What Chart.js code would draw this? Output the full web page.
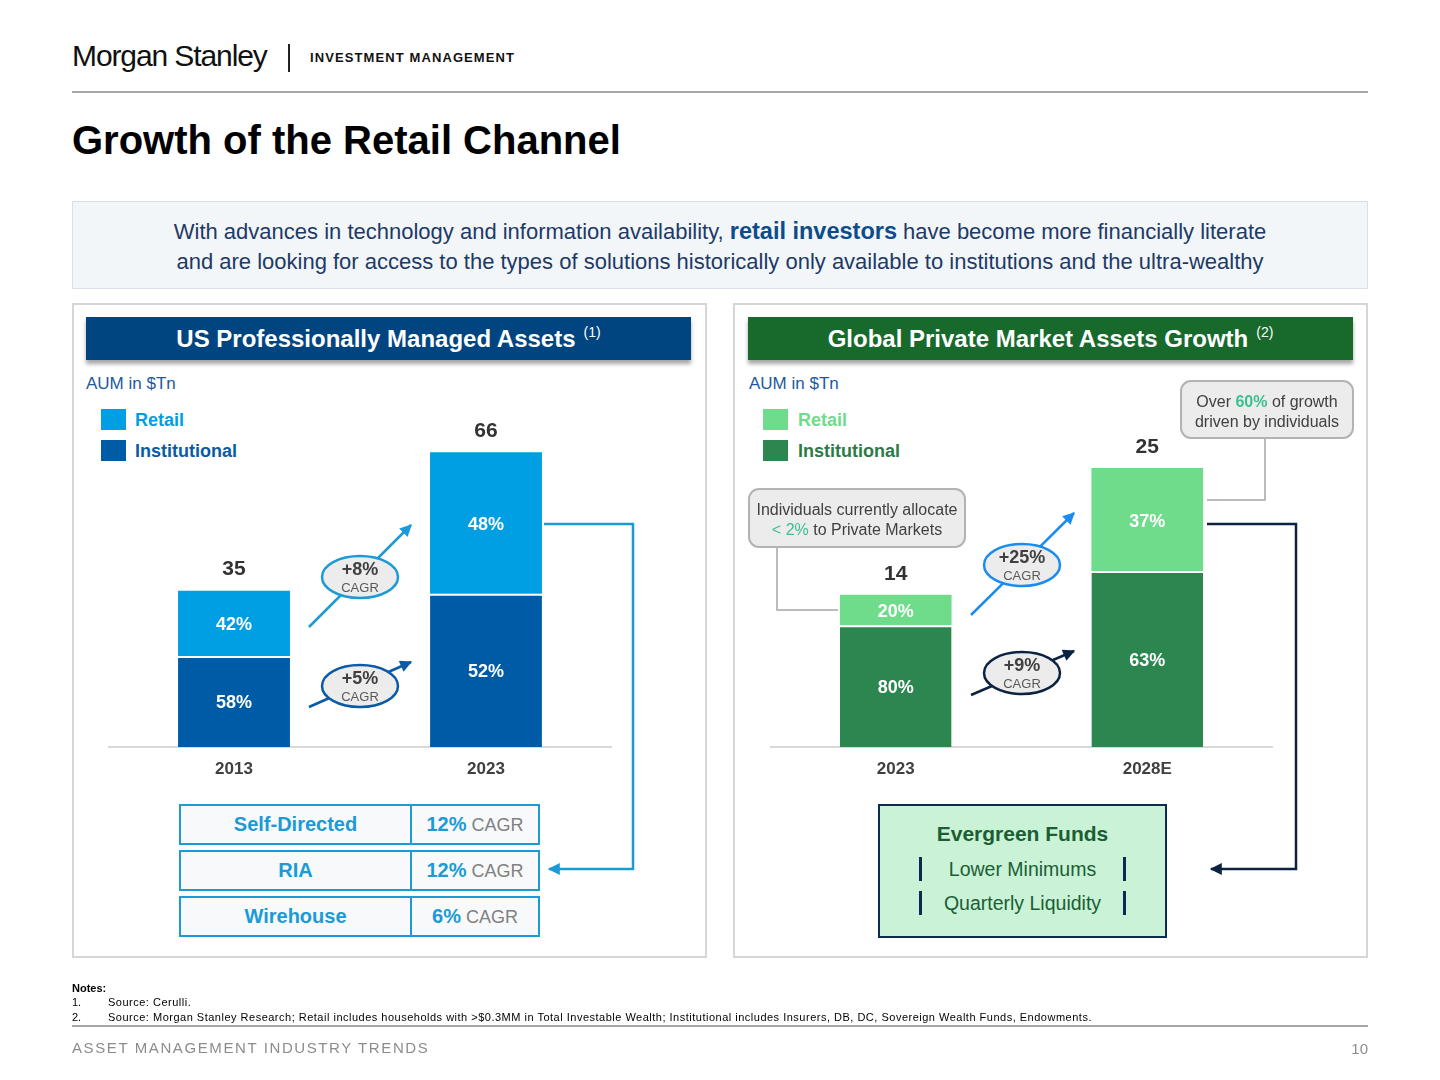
<!DOCTYPE html>
<html>
<head>
<meta charset="utf-8">
<script src="https://cdn.jsdelivr.net/npm/chart.js@4.4.1/dist/chart.umd.min.js"></script>
<style>
body{margin:0;background:#fff;font-family:"Liberation Sans",Arial,sans-serif;}
#page{position:relative;width:1440px;height:1080px;overflow:hidden;background:#fff;}
.a{position:absolute;}
.panel{border:2px solid #d6d6d6;box-sizing:border-box;}
.hdr{color:#fff;font-weight:bold;font-size:24px;text-align:center;line-height:43px;box-shadow:0 4px 4px rgba(0,0,0,0.35);}
.hdr sup{font-size:14px;font-weight:normal;vertical-align:baseline;position:relative;top:-10px;margin-left:8px;line-height:0;}
.aum{font-size:17px;color:#1c5a9c;line-height:20px;}
.sq{width:25px;height:21px;}
.lg{font-size:18px;font-weight:bold;line-height:21px;}
.row{border:2px solid #1a9bd7;box-sizing:border-box;height:41px;width:361px;background:#f8f9fb;}
.row .c1{position:absolute;left:0;width:229px;top:0;height:37px;line-height:37px;text-align:center;font-weight:bold;font-size:20px;color:#1a9bd7;border-right:2px solid #1a9bd7;}
.row .c2{position:absolute;left:231px;width:126px;top:0;height:37px;line-height:37px;text-align:center;font-size:18px;color:#808080;}
.row .c2 b{font-size:20px;color:#1a9bd7;}
.notes{font-size:11px;color:#000;line-height:15px;}
</style>
</head>
<body>
<div id="page">
  <!-- header -->
  <div class="a" style="left:72px;top:38px;font-size:30px;letter-spacing:-1.1px;color:#111;line-height:36px;">Morgan Stanley</div>
  <div class="a" style="left:288px;top:44px;width:2px;height:28px;background:#222;"></div>
  <div class="a" style="left:310px;top:50px;font-size:13px;font-weight:bold;letter-spacing:1.1px;color:#111;line-height:16px;">INVESTMENT MANAGEMENT</div>
  <div class="a" style="left:72px;top:91px;width:1296px;height:2px;background:#a6a6a6;"></div>
  <div class="a" style="left:72px;top:116px;font-size:40px;font-weight:bold;color:#000;line-height:48px;">Growth of the Retail Channel</div>

  <!-- intro box -->
  <div class="a" style="left:72px;top:201px;width:1296px;height:88px;box-sizing:border-box;border:1.5px solid #d9e0e8;background:#f3f6f9;text-align:center;color:#1d3a66;font-size:22px;line-height:30px;padding-top:14px;">
    With advances in technology and information availability, <b style="color:#0d4c8a;font-size:23.5px;">retail investors</b> have become more financially literate<br>
    and are looking for access to the types of solutions historically only available to institutions and the ultra-wealthy
  </div>

  <!-- panels -->
  <div class="a panel" style="left:72px;top:303px;width:635px;height:655px;"></div>
  <div class="a panel" style="left:733px;top:303px;width:635px;height:655px;"></div>

  <div class="a hdr" style="left:86px;top:317px;width:605px;height:43px;background:#00457f;">US Professionally Managed Assets<sup>(1)</sup></div>
  <div class="a hdr" style="left:748px;top:317px;width:605px;height:43px;background:#176a2c;">Global Private Market Assets Growth<sup>(2)</sup></div>

  <div class="a aum" style="left:86px;top:374px;">AUM in $Tn</div>
  <div class="a aum" style="left:749px;top:374px;">AUM in $Tn</div>

  <!-- legends -->
  <div class="a sq" style="left:101px;top:409px;background:#009fe3;"></div>
  <div class="a lg" style="left:135px;top:410px;color:#009fe3;">Retail</div>
  <div class="a sq" style="left:101px;top:440px;background:#005ba6;"></div>
  <div class="a lg" style="left:135px;top:441px;color:#0a5aa5;">Institutional</div>

  <div class="a sq" style="left:763px;top:409px;background:#6fdc8c;"></div>
  <div class="a lg" style="left:798px;top:410px;color:#6fdc8c;">Retail</div>
  <div class="a sq" style="left:763px;top:440px;background:#2c8650;"></div>
  <div class="a lg" style="left:798px;top:441px;color:#2b7a47;">Institutional</div>

  <!-- charts -->
  <canvas id="usChart" class="a" width="504" height="420" style="left:108px;top:380px;width:504px;height:420px;"></canvas>
  <canvas id="pmChart" class="a" width="503" height="420" style="left:770px;top:380px;width:503px;height:420px;"></canvas>

  <!-- channel table -->
  <div id="chTable" class="a" style="left:179px;top:804px;"></div>

  <!-- evergreen box -->
  <div class="a" style="left:878px;top:804px;width:289px;height:134px;box-sizing:border-box;border:2px solid #0d2b4e;background:#c9f2d6;"></div>
  <div class="a" style="left:878px;top:820px;width:289px;text-align:center;font-size:21px;font-weight:bold;color:#1b5e34;line-height:28px;">Evergreen Funds</div>
  <div class="a" style="left:878px;top:856px;width:289px;text-align:center;font-size:19.5px;color:#1b5e34;line-height:26px;">Lower Minimums</div>
  <div class="a" style="left:878px;top:890px;width:289px;text-align:center;font-size:19.5px;color:#1b5e34;line-height:26px;">Quarterly Liquidity</div>
  <div class="a" style="left:919px;top:857px;width:3px;height:24px;background:#0d2b4e;"></div>
  <div class="a" style="left:1123px;top:857px;width:3px;height:24px;background:#0d2b4e;"></div>
  <div class="a" style="left:919px;top:891px;width:3px;height:24px;background:#0d2b4e;"></div>
  <div class="a" style="left:1123px;top:891px;width:3px;height:24px;background:#0d2b4e;"></div>

  <!-- annotations -->
  <svg class="a" style="left:0;top:0;" width="1440" height="1080" font-family="Liberation Sans, Arial, sans-serif">
    <defs>
      <marker id="mLight" viewBox="0 0 10 10" refX="9" refY="5" markerWidth="13" markerHeight="12" markerUnits="userSpaceOnUse" orient="auto"><path d="M0,0 L10,5 L0,10 z" fill="#1a9bd7"/></marker>
      <marker id="mDark" viewBox="0 0 10 10" refX="9" refY="5" markerWidth="13" markerHeight="12" markerUnits="userSpaceOnUse" orient="auto"><path d="M0,0 L10,5 L0,10 z" fill="#0a5aa5"/></marker>
      <marker id="mBright" viewBox="0 0 10 10" refX="9" refY="5" markerWidth="13" markerHeight="12" markerUnits="userSpaceOnUse" orient="auto"><path d="M0,0 L10,5 L0,10 z" fill="#1a8cf0"/></marker>
      <marker id="mNavy" viewBox="0 0 10 10" refX="9" refY="5" markerWidth="13" markerHeight="12" markerUnits="userSpaceOnUse" orient="auto"><path d="M0,0 L10,5 L0,10 z" fill="#0b2341"/></marker>
    </defs>
    <g id="cagrLayer"></g>

    <!-- brackets -->
    <polyline points="544,524 633,524 633,869 549,869" fill="none" stroke="#1a9bd7" stroke-width="2.5" marker-end="url(#mLight)"/>
    <polyline points="1207,524 1296,524 1296,869 1211,869" fill="none" stroke="#0b2341" stroke-width="2.5" marker-end="url(#mNavy)"/>

    <!-- callouts -->
    <polyline points="777,547 777,610 838,610" fill="none" stroke="#a6a6a6" stroke-width="1.5"/>
    <rect x="749" y="489" width="216" height="58" rx="10" fill="#ececec" stroke="#b3b3b3" stroke-width="2"/>
    <text x="857" y="515" text-anchor="middle" font-size="16" fill="#404040">Individuals currently allocate</text>
    <text x="857" y="535" text-anchor="middle" font-size="16" fill="#404040"><tspan fill="#3cbf8f">&lt; 2%</tspan> to Private Markets</text>

    <polyline points="1265,438 1265,500 1207,500" fill="none" stroke="#a6a6a6" stroke-width="1.5"/>
    <rect x="1181" y="381" width="172" height="57" rx="10" fill="#ececec" stroke="#b3b3b3" stroke-width="2"/>
    <text x="1267" y="407" text-anchor="middle" font-size="16" fill="#404040">Over <tspan fill="#3cbf8f" font-weight="bold">60%</tspan> of growth</text>
    <text x="1267" y="427" text-anchor="middle" font-size="16" fill="#404040">driven by individuals</text>
  </svg>

  <!-- footer -->
  <div class="a notes" style="left:72px;top:981px;font-weight:bold;">Notes:</div>
  <div class="a notes" style="left:72px;top:995px;">1.</div>
  <div class="a notes" style="left:108px;top:995px;letter-spacing:0.5px;">Source: Cerulli.</div>
  <div class="a notes" style="left:72px;top:1010px;">2.</div>
  <div class="a notes" style="left:108px;top:1010px;letter-spacing:0.5px;">Source: Morgan Stanley Research; Retail includes households with &gt;$0.3MM in Total Investable Wealth; Institutional includes Insurers, DB, DC, Sovereign Wealth Funds, Endowments.</div>
  <div class="a" style="left:72px;top:1025px;width:1296px;height:2px;background:#a6a6a6;"></div>
  <div class="a" style="left:72px;top:1039px;font-size:15px;color:#8c8c8c;letter-spacing:1.6px;line-height:18px;">ASSET MANAGEMENT INDUSTRY TRENDS</div>
  <div class="a" style="left:1300px;width:68px;top:1040px;font-size:15px;color:#8c8c8c;line-height:18px;text-align:right;">10</div>
</div>

<script>
// US professionally managed assets ($Tn)
const usYears = ['2013', '2023'];
const usRetail = [14.6, 31.7];
const usInstitutional = [20.4, 34.3];
const usCagr = ['+8%', '+5%']; // retail, institutional

// Global private market assets ($Tn)
const pmYears = ['2023', '2028E'];
const pmRetail = [2.75, 9.3];
const pmInstitutional = [11.0, 15.9];
const pmCagr = ['+25%', '+9%'];

// Retail channel growth
const channelNames = ['Self-Directed', 'RIA', 'Wirehouse'];
const channelCagr = [12, 12, 6];

const FONT = '"Liberation Sans", Arial, sans-serif';

// labels inside the segments and totals on top
const segLabels = {
  id: 'segLabels',
  afterDatasetsDraw(chart) {
    const ctx = chart.ctx;
    ctx.save();
    ctx.textAlign = 'center';
    ctx.textBaseline = 'middle';
    chart.data.labels.forEach((lab, i) => {
      const total = chart.data.datasets.reduce((s, d) => s + d.data[i], 0);
      let top = Infinity, x = 0;
      chart.data.datasets.forEach((d, di) => {
        const el = chart.getDatasetMeta(di).data[i];
        ctx.fillStyle = '#fff';
        ctx.font = 'bold 18px ' + FONT;
        ctx.fillText(Math.round(d.data[i] / total * 100) + '%', el.x, (el.y + el.base) / 2 + 2);
        top = Math.min(top, el.y);
        x = el.x;
      });
      ctx.fillStyle = '#333';
      ctx.font = 'bold 21px ' + FONT;
      ctx.fillText(Math.round(total), x, top - 21);
    });
    ctx.restore();
  }
};

function stackedChart(id, years, retail, inst, cRetail, cInst, yMax, padTop) {
  return new Chart(document.getElementById(id), {
    type: 'bar',
    data: {
      labels: years,
      datasets: [
        { label: 'Institutional', data: inst, backgroundColor: cInst, borderColor: '#fff',
          borderWidth: { top: 2, left: 0, right: 0, bottom: 0 }, borderSkipped: false },
        { label: 'Retail', data: retail, backgroundColor: cRetail, borderWidth: 0 }
      ]
    },
    options: {
      responsive: false,
      animation: false,
      layout: { padding: { top: padTop, left: 0, right: 0, bottom: 0 } },
      plugins: { legend: { display: false }, tooltip: { enabled: false } },
      datasets: { bar: { categoryPercentage: 1, barPercentage: 0.444 } },
      scales: {
        x: {
          stacked: true,
          grid: { display: false, drawTicks: false },
          border: { display: true, color: '#d9d9d9', width: 2 },
          ticks: { color: '#404040', padding: 12, font: { family: FONT, size: 17, weight: 'bold' } },
          afterFit: s => { s.height = 53; }
        },
        y: { stacked: true, display: false, min: 0, max: yMax }
      }
    },
    plugins: [segLabels]
  });
}

stackedChart('usChart', usYears, usRetail, usInstitutional, '#009fe3', '#005ba6', 75, 32);
stackedChart('pmChart', pmYears, pmRetail, pmInstitutional, '#6fdc8c', '#2c8650', 30, 35);

// CAGR arrows and bubbles
const NS = 'http://www.w3.org/2000/svg';
const layer = document.getElementById('cagrLayer');
function el(tag, attrs, text) {
  const e = document.createElementNS(NS, tag);
  for (const k in attrs) e.setAttribute(k, attrs[k]);
  if (text) e.textContent = text;
  layer.appendChild(e);
  return e;
}
function cagrBubble(x1, y1, x2, y2, cx, cy, color, marker, value) {
  el('line', { x1, y1, x2, y2, stroke: color, 'stroke-width': 2.5, 'marker-end': 'url(#' + marker + ')' });
  el('ellipse', { cx, cy, rx: 38, ry: 21, fill: '#ececec', stroke: color, 'stroke-width': 2.5 });
  el('text', { x: cx, y: cy - 2, 'text-anchor': 'middle', 'font-size': 18, 'font-weight': 'bold', fill: '#404040' }, value);
  el('text', { x: cx, y: cy + 15, 'text-anchor': 'middle', 'font-size': 13, fill: '#595959' }, 'CAGR');
}
cagrBubble(309, 627, 411, 525, 360, 577, '#1a9bd7', 'mLight', usCagr[0]);
cagrBubble(309, 707, 411, 662, 360, 686, '#0a5aa5', 'mDark', usCagr[1]);
cagrBubble(971, 615, 1074, 513, 1022, 565, '#1a8cf0', 'mBright', pmCagr[0]);
cagrBubble(971, 695, 1074, 651, 1022, 673, '#0b2341', 'mNavy', pmCagr[1]);

// channel table
const tbl = document.getElementById('chTable');
channelNames.forEach((name, i) => {
  const r = document.createElement('div');
  r.className = 'row';
  r.style.position = 'absolute';
  r.style.left = '0px';
  r.style.top = (i * 46) + 'px';
  r.innerHTML = '<div class="c1">' + name + '</div><div class="c2"><b>' + channelCagr[i] + '%</b> CAGR</div>';
  tbl.appendChild(r);
});
</script>
</body>
</html>
